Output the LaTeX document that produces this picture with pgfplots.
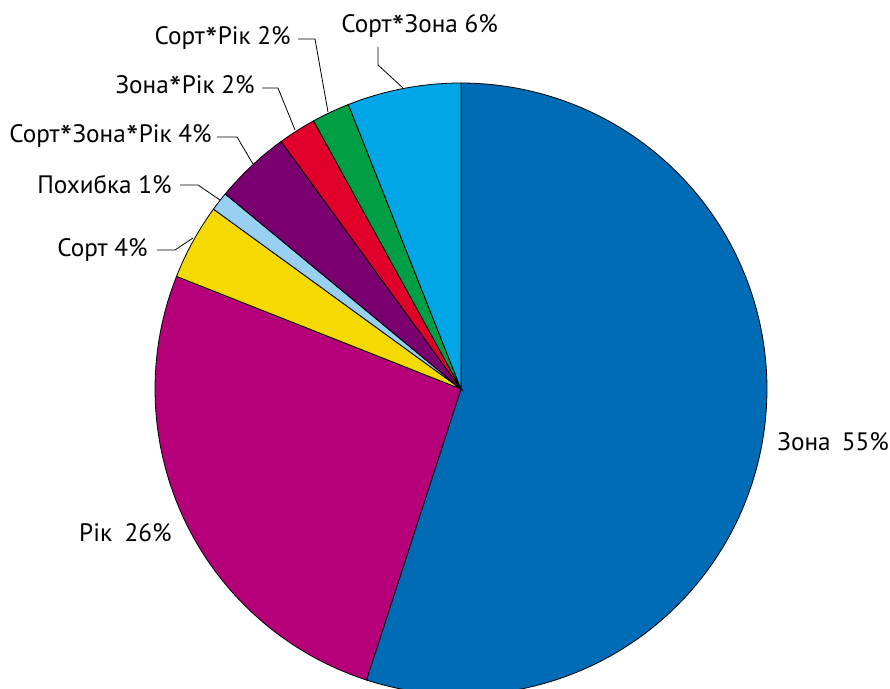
\documentclass[border=0pt]{standalone}
\usepackage{fontspec}
\setmainfont{PT Sans}
\usepackage{graphicx}
\usepackage{pgfplots}
\pgfplotsset{compat=1.18}
\definecolor{czona}{RGB}{0,108,181}
\definecolor{crik}{RGB}{181,0,122}
\definecolor{csort}{RGB}{245,218,0}
\definecolor{cpoh}{RGB}{152,208,242}
\definecolor{cszr}{RGB}{122,0,112}
\definecolor{czr}{RGB}{224,0,42}
\definecolor{csr}{RGB}{0,158,69}
\definecolor{csz}{RGB}{0,166,230}
\newcommand\st{\kern0.02em\raisebox{-0.55ex}{\scalebox{1.35}{*}}\kern0.02em}
\tikzset{slice/.style={draw=black, line width=0.4pt},
  lab/.style={font=\fontsize{12.6}{15}\selectfont, inner sep=0pt}}
\begin{document}
\begin{tikzpicture}
\begin{axis}[x=0.5pt, y=0.5pt, xmin=0, xmax=890, ymin=0, ymax=689, y dir=reverse,
  hide axis, clip=true, scale only axis]
% shares in percent, clockwise from 12 o'clock:
% Zona 55, Rik 26, Sort 4, Pokhybka 1, Sort*Zona*Rik 4, Zona*Rik 2, Sort*Rik 2, Sort*Zona 6
\addplot[slice, no markers, fill=czona, domain={90-3.6*55}:{90}, samples=120] ({461+306*cos(x)},{389-306*sin(x)}) -- (axis cs:461,389) -- cycle;
\addplot[slice, no markers, fill=crik, domain={90-3.6*81}:{90-3.6*55}, samples=60] ({461+306*cos(x)},{389-306*sin(x)}) -- (axis cs:461,389) -- cycle;
\addplot[slice, no markers, fill=csort, domain={90-3.6*85}:{90-3.6*81}, samples=12] ({461+306*cos(x)},{389-306*sin(x)}) -- (axis cs:461,389) -- cycle;
\addplot[slice, no markers, fill=cpoh, domain={90-3.6*86}:{90-3.6*85}, samples=5] ({461+306*cos(x)},{389-306*sin(x)}) -- (axis cs:461,389) -- cycle;
\addplot[slice, no markers, fill=cszr, domain={90-3.6*90}:{90-3.6*86}, samples=12] ({461+306*cos(x)},{389-306*sin(x)}) -- (axis cs:461,389) -- cycle;
\addplot[slice, no markers, fill=czr, domain={90-3.6*92}:{90-3.6*90}, samples=8] ({461+306*cos(x)},{389-306*sin(x)}) -- (axis cs:461,389) -- cycle;
\addplot[slice, no markers, fill=csr, domain={90-3.6*94}:{90-3.6*92}, samples=8] ({461+306*cos(x)},{389-306*sin(x)}) -- (axis cs:461,389) -- cycle;
\addplot[slice, no markers, fill=csz, domain={90-3.6*100}:{90-3.6*94}, samples=16] ({461+306*cos(x)},{389-306*sin(x)}) -- (axis cs:461,389) -- cycle;
% labels and leaders
\node[lab, anchor=west] at (axis cs:777,442) {Зона\hspace{0.45em}55\%};
\node[lab, anchor=east] at (axis cs:172,533) {Рік\hspace{0.5em}26\%};
\node[lab, anchor=west] at (axis cs:341,27) {Сорт\st Зона 6\%};
\draw[line width=0.4pt] (axis cs:378,47) -- (axis cs:378,65) -- (axis cs:403,88);
\node[lab, anchor=east] at (axis cs:291,39) {Сорт\st Рік 2\%};
\draw[line width=0.4pt] (axis cs:298,39) -- (axis cs:315,39) -- (axis cs:328,112);
\node[lab, anchor=east] at (axis cs:255,88) {Зона\st Рік 2\%};
\draw[line width=0.4pt] (axis cs:262,88) -- (axis cs:278,88) -- (axis cs:295,130);
\node[lab, anchor=east] at (axis cs:212,137) {Сорт\st Зона\st Рік 4\%};
\draw[line width=0.4pt] (axis cs:217,137) -- (axis cs:237,137) -- (axis cs:253,164);
\node[lab, anchor=east] at (axis cs:172,185) {Похибка 1\%};
\draw[line width=0.4pt] (axis cs:180,185) -- (axis cs:198,185) -- (axis cs:220,200);
\node[lab, anchor=east] at (axis cs:148,250) {Сорт 4\%};
\draw[line width=0.4pt] (axis cs:157,250) -- (axis cs:175,250) -- (axis cs:193,238);
\end{axis}
\pgfresetboundingbox
\path (current axis.south west) rectangle (current axis.north east);
\end{tikzpicture}
\end{document}
